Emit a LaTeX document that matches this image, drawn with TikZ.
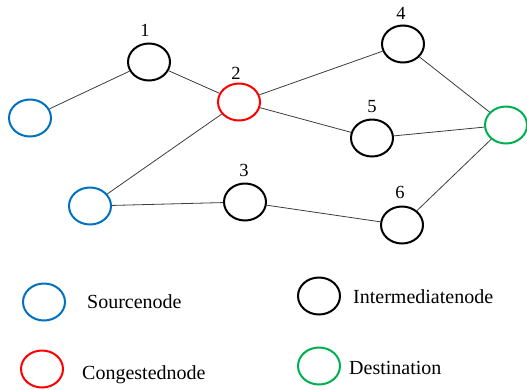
\documentclass[tikz,border=0pt]{standalone}
\usepackage{fontspec}
\setmainfont{Liberation Serif}
\usetikzlibrary{shapes.geometric}
\definecolor{srcblue}{RGB}{0,112,192}
\definecolor{congred}{RGB}{255,0,0}
\definecolor{dstgreen}{RGB}{0,176,80}
\definecolor{edgegray}{RGB}{60,60,60}
\tikzset{
  netnode/.style={ellipse, draw, line width=2pt, minimum width=42pt, minimum height=37pt, inner sep=0pt},
  source/.style={netnode, draw=srcblue},
  inter/.style={netnode, draw=black},
  congested/.style={netnode, draw=congred},
  dest/.style={netnode, draw=dstgreen},
  numlabel/.style={font=\fontsize{18.5}{20}\selectfont, inner sep=0pt},
  legendtext/.style={font=\fontsize{20}{22}\selectfont, anchor=west, inner sep=0pt},
  link/.style={draw=edgegray, line width=0.8pt}
}
\begin{document}
\begin{tikzpicture}[x=1pt,y=-1pt]
\useasboundingbox (0,0) rectangle (527,389);

% network nodes
\node[source] (s1) at (30,118) {};
\node[source] (s2) at (90,206) {};
\node[inter] (n1) at (149,62) {};
\node[congested] (n2) at (239,102) {};
\node[inter] (n3) at (245,202) {};
\node[inter] (n4) at (403,44) {};
\node[inter] (n5) at (372,138) {};
\node[inter] (n6) at (402,225) {};
\node[dest] (d) at (506,125) {};

% node numbers
\node[numlabel] (l1) at (145,30) {1};
\node[numlabel] (l2) at (236,73) {2};
\node[numlabel] (l3) at (244,170) {3};
\node[numlabel] (l4) at (401,13) {4};
\node[numlabel] (l5) at (372,107) {5};
\node[numlabel] (l6) at (400,192) {6};

% links
\draw[link] (s1) -- (n1);
\draw[link] (n1) -- (n2);
\draw[link] (s2) -- (n2);
\draw[link] (s2) -- (n3);
\draw[link] (n2) -- (n4);
\draw[link] (n2) -- (n5);
\draw[link] (n3) -- (n6);
\draw[link] (n4) -- (d);
\draw[link] (n5) -- (d);
\draw[link] (n6) -- (d);

% legend
\node[source] (ks) at (44,302) {};
\node[legendtext] (ts) at (87,302) {Sourcenode};
\node[inter] (ki) at (319,296) {};
\node[legendtext] (ti) at (353,297) {Intermediatenode};
\node[congested] (kc) at (42,369) {};
\node[legendtext] (tc) at (82,375) {Congestednode};
\node[dest] (kd) at (319,366) {};
\node[legendtext] (td) at (349,368) {Destination};
\end{tikzpicture}
\end{document}
